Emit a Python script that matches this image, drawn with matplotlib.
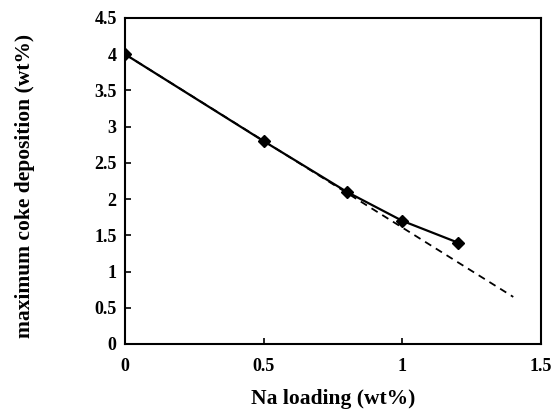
import matplotlib.pyplot as plt
import numpy as np

plt.rcParams['font.family'] = ['Liberation Serif', 'DejaVu Serif']
plt.rcParams['font.weight'] = 'bold'

# datos
na = [0, 0.5, 0.8, 1.0, 1.2]          # Na loading (wt%)
coke = [4.0, 2.8, 2.1, 1.7, 1.4]      # maximum coke deposition (wt%)

# extrapolación lineal (línea de trazos)
na_lin = [0, 1.4]
coke_lin = [4.0, 0.65]

fig = plt.figure(figsize=(5.57, 4.12), dpi=100)
ax = fig.add_axes([125/557, 1-344/412, (541-125)/557, (344-18)/412])

ax.plot(na_lin, coke_lin, color='black', lw=1.3, ls=(0, (4, 3)))
ax.plot(na, coke, color='black', lw=1.6, marker='D', ms=6.5, mfc='black', mec='black')

ax.set_xlim(0, 1.5)
ax.set_ylim(0, 4.5)
ax.set_xticks([0, 0.5, 1, 1.5])
ax.set_xticklabels(['0', '0.5', '1', '1.5'])
ax.set_yticks(np.arange(0, 4.51, 0.5))
ax.set_yticklabels(['0', '0.5', '1', '1.5', '2', '2.5', '3', '3.5', '4', '4.5'])
ax.tick_params(direction='in', length=4, width=1.2, labelsize=13)
ax.tick_params(axis='x', pad=10)
ax.tick_params(axis='y', pad=6)
for s in ax.spines.values():
    s.set_linewidth(1.5)

ax.set_xlabel('Na loading (wt%)', fontsize=15.5, fontweight='bold')
ax.set_ylabel('maximum coke deposition (wt%)', fontsize=15.5, fontweight='bold')
ax.xaxis.set_label_coords(0.5, -45/326, transform=ax.transAxes)
ax.yaxis.set_label_coords(-90/416, 0.485, transform=ax.transAxes)

plt.savefig('out.png', dpi=100)
